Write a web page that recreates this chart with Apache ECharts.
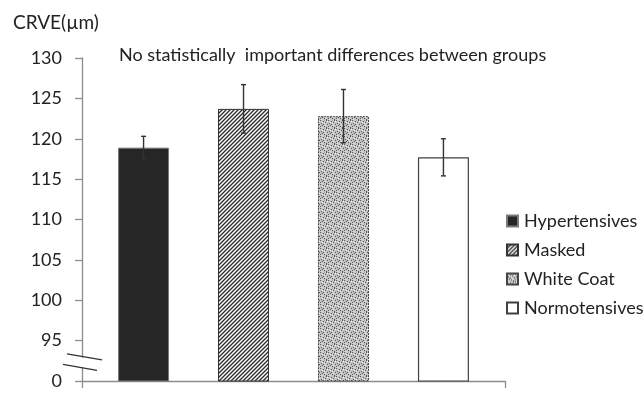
<!DOCTYPE html>
<html><head><meta charset="utf-8">
<script src="https://cdn.jsdelivr.net/npm/echarts@6/dist/echarts.min.js"></script>
<style>html,body{margin:0;padding:0;background:#fff}#c{width:644px;height:393px}</style>
</head><body><div id="c"></div>
<script>
var groups = ['Hypertensives', 'Masked', 'White Coat', 'Normotensives'];
var means = [118.9, 123.7, 122.8, 117.7];
var errors = [1.4, 3.0, 3.3, 2.3];
var yTicks = [90, 95, 100, 105, 110, 115, 120, 125, 130];
var yTickLabels = ['0', '95', '100', '105', '110', '115', '120', '125', '130'];
var titleText = 'No statistically  important differences between groups';
var yName = 'CRVE(µm)';

var FONT = 'Lato';

function hatchPattern() {
  var c = document.createElement('canvas'); c.width = 4; c.height = 4;
  var g = c.getContext('2d');
  g.fillStyle = '#fff'; g.fillRect(0, 0, 4, 4);
  g.strokeStyle = '#2a2a2a'; g.lineWidth = 1.3;
  g.beginPath();
  g.moveTo(-1, 5); g.lineTo(5, -1);
  g.moveTo(-1, 1); g.lineTo(1, -1);
  g.moveTo(3, 5); g.lineTo(5, 3);
  g.stroke();
  return c;
}
function stipplePattern() {
  var s = 8;
  var c = document.createElement('canvas'); c.width = s; c.height = s;
  var g = c.getContext('2d');
  g.fillStyle = '#c4c4c4'; g.fillRect(0, 0, s, s);
  var dark = [[0,0],[3,1],[6,0],[1,3],[5,2],[2,5],[7,4],[4,6],[0,6],[6,7],[3,4]];
  var light = [[2,2],[5,5],[7,1],[1,7],[4,3]];
  g.fillStyle = '#555';
  dark.forEach(function(p){ g.fillRect(p[0], p[1], 1, 1); });
  g.fillStyle = '#f2f2f2';
  light.forEach(function(p){ g.fillRect(p[0], p[1], 1, 1); });
  return c;
}

var styles = [
  { color: '#262626', borderColor: '#7a7a7a', borderWidth: 1 },
  { color: { image: hatchPattern(), repeat: 'repeat' }, borderColor: '#333', borderWidth: 1 },
  { color: { image: stipplePattern(), repeat: 'repeat' }, borderColor: '#444', borderWidth: 1, borderType: [2, 1] },
  { color: '#ffffff', borderColor: '#404040', borderWidth: 1.2 }
];

var BAR_W = 51, GAP = '96%';

var series = groups.map(function (name, i) {
  return {
    name: name, type: 'bar', barWidth: BAR_W, barGap: GAP,
    data: [means[i]], itemStyle: styles[i], silent: true
  };
});

series.push({
  type: 'custom', silent: true, z: 10,
  data: means.map(function (m, i) { return [i, m, errors[i]]; }),
  renderItem: function (params, api) {
    var i = api.value(0), m = api.value(1), e = api.value(2);
    var n = groups.length;
    var gapPx = BAR_W * 0.96;
    var total = n * BAR_W + (n - 1) * gapPx;
    var base = api.coord([0, m]);
    var cx = base[0] - total / 2 + BAR_W / 2 + i * (BAR_W + gapPx);
    var top = api.coord([0, m + e])[1];
    var bot = api.coord([0, m - e])[1];
    var cap = 2.5;
    var st = { stroke: '#333', lineWidth: 1.4 };
    return { type: 'group', children: [
      { type: 'line', shape: { x1: cx, y1: top, x2: cx, y2: bot }, style: st },
      { type: 'line', shape: { x1: cx - cap, y1: top, x2: cx + cap, y2: top }, style: st },
      { type: 'line', shape: { x1: cx - cap, y1: bot, x2: cx + cap, y2: bot }, style: st }
    ]};
  }
});

var chart = echarts.init(document.getElementById('c'), null, { renderer: 'canvas' });
chart.setOption({
  animation: false,
  backgroundColor: '#fff',
  textStyle: { fontFamily: FONT },
  title: [
    { text: yName, left: 8, top: 8, textStyle: { fontFamily: FONT, fontSize: 19, fontWeight: 'normal', color: '#222' } },
    { text: titleText, left: 114, top: 41, textStyle: { fontFamily: FONT, fontSize: 18, fontWeight: 'normal', color: '#222' } }
  ],
  legend: {
    orient: 'vertical', left: 501, top: 207, itemWidth: 11, itemHeight: 11, itemGap: 11,
    icon: 'rect',
    textStyle: { fontFamily: FONT, fontSize: 18, color: '#222', padding: [0, 0, 0, 1] },
    data: groups
  },
  grid: { left: 82, right: 139, top: 58, bottom: 12, containLabel: false },
  xAxis: {
    type: 'category', data: [''],
    axisLine: { lineStyle: { color: '#8c8c8c', width: 1.3 } },
    axisTick: { show: true, length: 7, lineStyle: { color: '#8c8c8c', width: 1.3 } },
    axisLabel: { show: false }
  },
  yAxis: {
    type: 'value', min: 90, max: 130, interval: 5,
    axisLine: { show: true, lineStyle: { color: '#8c8c8c', width: 1.3 } },
    axisTick: { show: true, length: 7, lineStyle: { color: '#8c8c8c', width: 1.3 } },
    splitLine: { show: false },
    axisLabel: {
      margin: 20, fontFamily: FONT, fontSize: 18, color: '#222',
      formatter: function (v) { var k = yTicks.indexOf(v); return k >= 0 ? yTickLabels[k] : ''; }
    }
  },
  series: series
});

// axis break decoration, placed from the axis scale
var pA = chart.convertToPixel({ gridIndex: 0 }, [0, 93.0]);
var pB = chart.convertToPixel({ gridIndex: 0 }, [0, 91.7]);
var xLeft = chart.getModel().getComponent('grid').coordinateSystem.getRect().x;
var y1 = pA[1], y2 = pB[1];
chart.setOption({
  graphic: [
    { type: 'rect', shape: { x: xLeft - 3, y: y1 + 1, width: 6, height: y2 - y1 - 1 }, style: { fill: '#fff' }, z: 100 },
    { type: 'line', shape: { x1: xLeft - 15, y1: y1 - 3, x2: xLeft + 20, y2: y1 + 3 }, style: { stroke: '#333', lineWidth: 1.3 }, z: 101 },
    { type: 'line', shape: { x1: xLeft - 19, y1: y2 - 3, x2: xLeft + 15, y2: y2 + 3 }, style: { stroke: '#333', lineWidth: 1.3 }, z: 101 }
  ]
});
</script>
</body></html>
